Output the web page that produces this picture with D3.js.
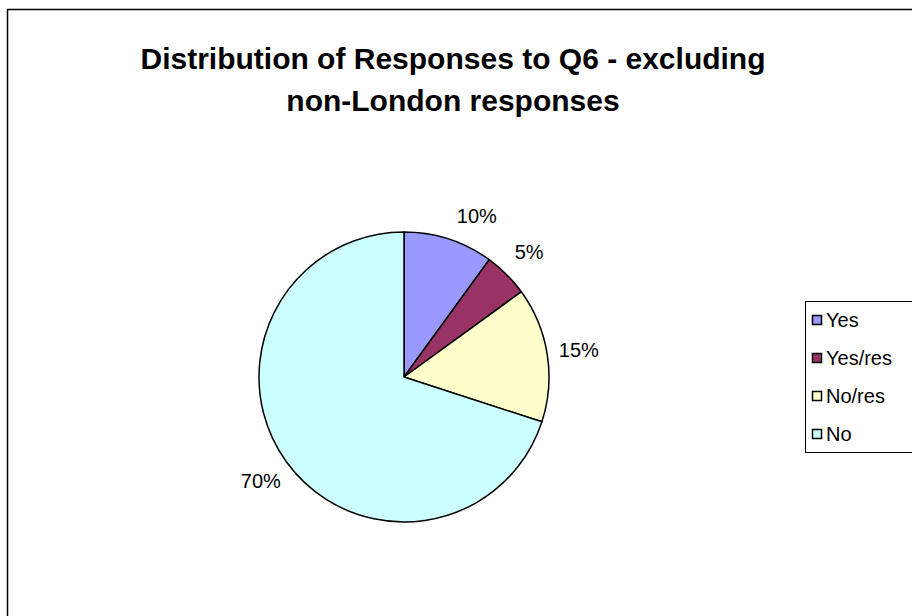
<!DOCTYPE html>
<html>
<head>
<meta charset="utf-8">
<script src="https://cdn.jsdelivr.net/npm/d3@7"></script>
<style>
  body { margin: 0; background: #fff; }
  svg { display: block; font-family: "Liberation Sans", Arial, sans-serif; }
</style>
</head>
<body>
<div id="chart"></div>
<script>
const width = 912;
const height = 616;

// data
const categories = ["Yes", "Yes/res", "No/res", "No"];
const shares = [10, 5, 15, 70];
const colors = ["#9999ff", "#993366", "#ffffcc", "#ccffff"];
const titleLines = ["Distribution of Responses to Q6 - excluding", "non-London responses"];

const svg = d3.select("#chart")
  .append("svg")
  .attr("width", width)
  .attr("height", height);

// chart area border (runs off the right and bottom edges)
svg.append("rect")
  .attr("x", 7.5)
  .attr("y", 9.5)
  .attr("width", 920)
  .attr("height", 620)
  .attr("fill", "#fff")
  .attr("stroke", "#000")
  .attr("stroke-width", 1.5);

// title
svg.append("text")
  .attr("text-anchor", "middle")
  .attr("font-size", 30)
  .attr("font-weight", "bold")
  .selectAll("tspan")
  .data(titleLines)
  .enter()
  .append("tspan")
  .attr("x", 453)
  .attr("y", (d, i) => 69 + i * 42)
  .text(d => d);

// pie
const cx = 404, cy = 377, r = 145;
const pie = d3.pie().sort(null).value(d => d)(shares);
const arc = d3.arc().innerRadius(0).outerRadius(r);
const labelArc = d3.arc().innerRadius(177).outerRadius(177);
const color = d3.scaleOrdinal().domain(categories).range(colors);

const g = svg.append("g").attr("transform", `translate(${cx},${cy})`);

g.selectAll("path")
  .data(pie)
  .enter()
  .append("path")
  .attr("d", arc)
  .attr("fill", (d, i) => color(categories[i]))
  .attr("stroke", "#000")
  .attr("stroke-width", 1.5)
  .attr("stroke-linejoin", "round");

// Excel nudges the first label a little clockwise
const nudge = [0.11, 0, 0, 0];
g.selectAll("text.lbl")
  .data(pie)
  .enter()
  .append("text")
  .attr("class", "lbl")
  .attr("transform", (d, i) => {
    const a = (d.startAngle + d.endAngle) / 2 + nudge[i];
    const p = labelArc.centroid({ startAngle: a, endAngle: a });
    return `translate(${p[0]},${p[1]})`;
  })
  .attr("text-anchor", "middle")
  .attr("dy", "0.36em")
  .attr("font-size", 20)
  .attr("fill", "#000")
  .text(d => d.value + "%");

// legend
const legend = svg.append("g");
legend.append("rect")
  .attr("x", 805.5)
  .attr("y", 301.5)
  .attr("width", 120)
  .attr("height", 151)
  .attr("fill", "#fff")
  .attr("stroke", "#000")
  .attr("stroke-width", 1);

const rows = legend.selectAll("g.row")
  .data(categories)
  .enter()
  .append("g")
  .attr("class", "row")
  .attr("transform", (d, i) => `translate(812,${320 + i * 38})`);

rows.append("rect")
  .attr("x", 0.5)
  .attr("y", -4.5)
  .attr("width", 9)
  .attr("height", 9)
  .attr("fill", d => color(d))
  .attr("stroke", "#000")
  .attr("stroke-width", 1.5);

rows.append("text")
  .attr("x", 14)
  .attr("dy", "0.36em")
  .attr("font-size", 20)
  .attr("fill", "#000")
  .text(d => d);
</script>
</body>
</html>
